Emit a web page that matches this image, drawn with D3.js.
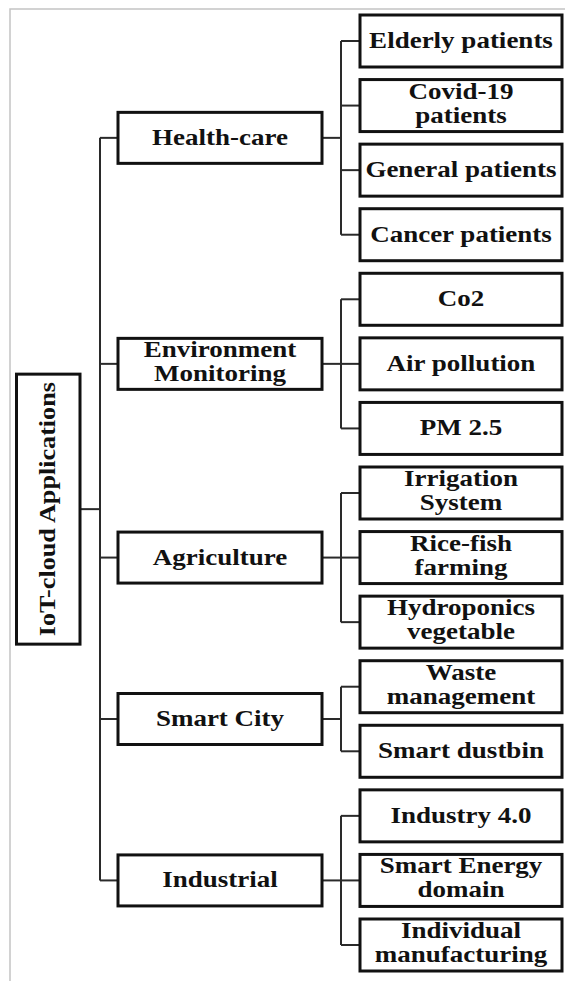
<!DOCTYPE html>
<html>
<head>
<meta charset="utf-8">
<title>IoT-cloud Applications</title>
<script src="https://d3js.org/d3.v7.min.js"></script>
<style>
  body { margin: 0; background: #fff; }
  text { font-family: "Liberation Serif", "Times New Roman", serif; font-weight: bold; fill: #111; }
</style>
</head>
<body>
<div id="chart"></div>
<script>
// labels, top to bottom
var rootLabel = "IoT-cloud Applications";
var categories = ["Health-care", "Environment\nMonitoring", "Agriculture", "Smart City", "Industrial"];
var healthCare = ["Elderly patients", "Covid-19\npatients", "General patients", "Cancer patients"];
var environment = ["Co2", "Air pollution", "PM 2.5"];
var agriculture = ["Irrigation\nSystem", "Rice-fish\nfarming", "Hydroponics\nvegetable"];
var smartCity = ["Waste\nmanagement", "Smart dustbin"];
var industrial = ["Industry 4.0", "Smart Energy\ndomain", "Individual\nmanufacturing"];
var children = [healthCare, environment, agriculture, smartCity, industrial];

var width = 565, height = 981;

var svg = d3.select("#chart").append("svg")
    .attr("width", width)
    .attr("height", height);

// light gray page frame (runs off right/bottom)
svg.append("rect")
    .attr("x", 10).attr("y", 9)
    .attr("width", 600).attr("height", 1000)
    .attr("fill", "none")
    .attr("stroke", "#c4c4c4")
    .attr("stroke-width", 1.5);

// build tree rows
var leaves = [];
children.forEach(function (list, ci) {
    list.forEach(function (lab) { leaves.push({label: lab, cat: ci}); });
});

var yLeaf = d3.scalePoint()
    .domain(d3.range(leaves.length))
    .range([41, 945]);

leaves.forEach(function (d, i) { d.y = yLeaf(i); });

var cats = categories.map(function (lab, ci) {
    var ys = leaves.filter(function (d) { return d.cat == ci; }).map(function (d) { return d.y; });
    return {label: lab, y: d3.mean(ys), y0: d3.min(ys), y1: d3.max(ys)};
});
var rootY = (cats[0].y + cats[cats.length - 1].y) / 2;

// column positions
var root = {x0: 16.5, x1: 80, h: 270};
var trunk1 = 100;
var cat = {x0: 118, x1: 322, h: 51};
var trunk2 = 341;
var leaf = {x0: 360, x1: 562, h: 52};

var lines = svg.append("g")
    .attr("stroke", "#2a2a2a")
    .attr("stroke-width", 2)
    .attr("fill", "none");

// root connectors
lines.append("line").attr("x1", root.x1).attr("x2", trunk1).attr("y1", rootY).attr("y2", rootY);
lines.append("line").attr("x1", trunk1).attr("x2", trunk1).attr("y1", cats[0].y).attr("y2", cats[cats.length - 1].y);
lines.selectAll(".cstub").data(cats).enter().append("line")
    .attr("x1", trunk1).attr("x2", cat.x0)
    .attr("y1", function (d) { return d.y; }).attr("y2", function (d) { return d.y; });

// category connectors
lines.selectAll(".ch").data(cats).enter().append("line")
    .attr("x1", cat.x1).attr("x2", trunk2)
    .attr("y1", function (d) { return d.y; }).attr("y2", function (d) { return d.y; });
lines.selectAll(".cv").data(cats).enter().append("line")
    .attr("x1", trunk2).attr("x2", trunk2)
    .attr("y1", function (d) { return d.y0; }).attr("y2", function (d) { return d.y1; });
lines.selectAll(".lstub").data(leaves).enter().append("line")
    .attr("x1", trunk2).attr("x2", leaf.x0)
    .attr("y1", function (d) { return d.y; }).attr("y2", function (d) { return d.y; });

function addLabel(g, label, cx, cy, size, sx) {
    var parts = label.split("\n");
    var lh = 24;
    var off = parts.length > 1 ? 5 : 7;
    var t = g.append("text")
        .attr("text-anchor", "middle")
        .attr("transform", "translate(" + cx + "," + cy + ") scale(" + sx + ",1)")
        .style("font-size", size + "px");
    parts.forEach(function (p, i) {
        t.append("tspan")
            .attr("x", 0)
            .attr("y", (i - (parts.length - 1) / 2) * lh + off)
            .text(p);
    });
}

function boxes(data, b) {
    var g = svg.selectAll(null).data(data).enter().append("g");
    g.append("rect")
        .attr("x", b.x0)
        .attr("y", function (d) { return d.y - b.h / 2; })
        .attr("width", b.x1 - b.x0)
        .attr("height", b.h)
        .attr("fill", "#fff")
        .attr("stroke", "#111")
        .attr("stroke-width", 3);
    g.each(function (d) {
        addLabel(d3.select(this), d.label, (b.x0 + b.x1) / 2, d.y, 22.7, 1.19);
    });
}

boxes(cats, cat);
boxes(leaves, leaf);

// root box, vertical text
svg.append("rect")
    .attr("x", root.x0)
    .attr("y", rootY - root.h / 2)
    .attr("width", root.x1 - root.x0)
    .attr("height", root.h)
    .attr("fill", "#fff")
    .attr("stroke", "#111")
    .attr("stroke-width", 3);
svg.append("text")
    .attr("text-anchor", "middle")
    .attr("transform", "translate(" + ((root.x0 + root.x1) / 2 + 7) + "," + rootY + ") rotate(-90) scale(1.09,1)")
    .style("font-size", "24px")
    .text(rootLabel);
</script>
</body>
</html>
